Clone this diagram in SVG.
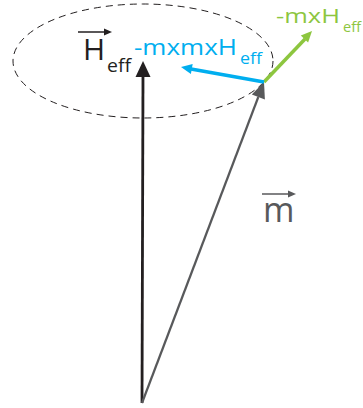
<svg xmlns="http://www.w3.org/2000/svg" width="363" height="408" viewBox="0 0 363 408">
<style>
text{font-family:"Open Sans","Liberation Sans",sans-serif}
.blk{fill:#231f20}
.gry{fill:#58595b}
.blu{fill:#00aeef}
.grn{fill:#8dc63f}
</style>
<rect width="363" height="408" fill="#fff"/>
<g id="orbit">
<ellipse cx="143" cy="61" rx="130" ry="57" fill="none" stroke="#231f20" stroke-width="1" stroke-dasharray="7,5"/>
</g>
<g id="connectors">
<line x1="142" y1="403" x2="143" y2="75" stroke="#231f20" stroke-width="2.8"/>
<path d="M143,61 L135.5,77 L150.5,77 Z" fill="#231f20"/>
<line x1="142" y1="403" x2="258.3" y2="97" stroke="#58595b" stroke-width="2.2"/>
<path d="M264,82 L264.9,99.5 L251.8,94.5 Z" fill="#58595b"/>
<line x1="264" y1="82" x2="305" y2="39" stroke="#8dc63f" stroke-width="3.5"/>
<path d="M312,31 L308.1,42.4 L300.8,35.6 Z" fill="#8dc63f"/>
<line x1="264" y1="82" x2="191" y2="69" stroke="#00aeef" stroke-width="3.8"/>
<path d="M181,67 L192.7,64.1 L190.9,73.9 Z" fill="#00aeef"/>
</g>
<g id="label-heff">
<line x1="78" y1="32" x2="106" y2="32" stroke="#231f20" stroke-width="1.5"/>
<path d="M112,32 L104,28.5 L104,35.5 Z" fill="#231f20"/>
<text class="blk" x="83" y="60" font-size="30">H</text>
<text class="blk" x="107" y="72" font-size="18" textLength="24" lengthAdjust="spacingAndGlyphs">eff</text>
</g>
<g id="label-mxmxh">
<text class="blu" x="134" y="55" font-size="22" textLength="103" lengthAdjust="spacingAndGlyphs">-mxmxH</text>
<text class="blu" x="240" y="64" font-size="16" textLength="22" lengthAdjust="spacingAndGlyphs">eff</text>
</g>
<g id="label-mxh">
<text class="grn" x="276" y="23" font-size="20.5" textLength="64" lengthAdjust="spacingAndGlyphs">-mxH</text>
<text class="grn" x="343" y="32" font-size="14" textLength="18" lengthAdjust="spacingAndGlyphs">eff</text>
</g>
<g id="label-m">
<line x1="262" y1="194" x2="290" y2="194" stroke="#58595b" stroke-width="1.5"/>
<path d="M296,194 L288,190.5 L288,197.5 Z" fill="#58595b"/>
<text class="gry" x="263" y="222" font-size="34">m</text>
</g>
</svg>
